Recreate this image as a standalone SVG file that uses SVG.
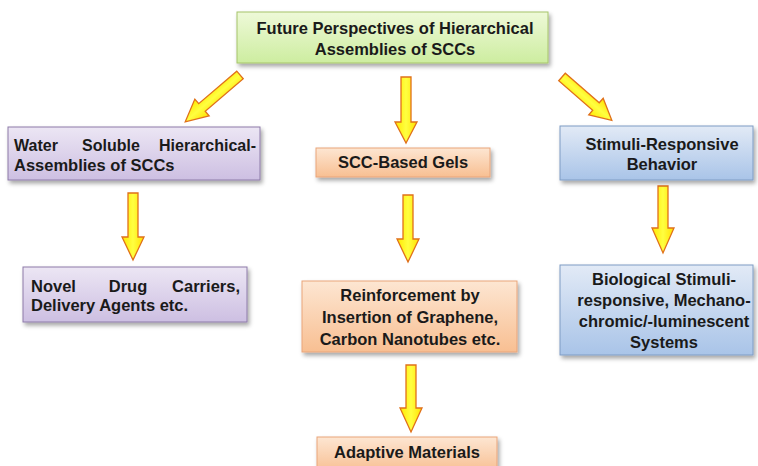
<svg xmlns="http://www.w3.org/2000/svg" width="758" height="466" viewBox="0 0 758 466">
<defs>
<linearGradient id="gGreen" x1="0" y1="0" x2="0" y2="1"><stop offset="0" stop-color="#eef9d8"/><stop offset="1" stop-color="#cdeda0"/></linearGradient>
<linearGradient id="gPurple" x1="0" y1="0" x2="0" y2="1"><stop offset="0" stop-color="#ece6f4"/><stop offset="1" stop-color="#cdbfe2"/></linearGradient>
<linearGradient id="gOrange" x1="0" y1="0" x2="0" y2="1"><stop offset="0" stop-color="#fde6d2"/><stop offset="1" stop-color="#f8bf92"/></linearGradient>
<linearGradient id="gBlue" x1="0" y1="0" x2="0" y2="1"><stop offset="0" stop-color="#e2eaf6"/><stop offset="1" stop-color="#a9c4e8"/></linearGradient>
<linearGradient id="gArrow" x1="0" y1="0" x2="1" y2="0"><stop offset="0" stop-color="#ffe800"/><stop offset="0.5" stop-color="#ffff40"/><stop offset="1" stop-color="#ffe000"/></linearGradient>
<filter id="sh" x="-10%" y="-10%" width="125%" height="140%"><feDropShadow dx="2" dy="3" stdDeviation="2" flood-color="#000" flood-opacity="0.35"/></filter>
</defs>
<style>
.t{font-family:"Liberation Sans",Arial,sans-serif;font-weight:bold;font-size:16.5px;fill:#1a1a1a}
.s{font-size:16px}
.c{text-anchor:middle}
.e{text-anchor:end}
.green{fill:url(#gGreen);stroke:#a6c46a;stroke-width:1}
.purple{fill:url(#gPurple);stroke:#8d7aa8;stroke-width:1}
.orange{fill:url(#gOrange);stroke:#e9a57a;stroke-width:1}
.blue{fill:url(#gBlue);stroke:#7f9cc4;stroke-width:1}
.arr{fill:url(#gArrow);stroke:#e0701a;stroke-width:1.3;stroke-linejoin:miter}
</style>
<rect width="758" height="466" fill="#fff"/>

<g id="connectors">
<path class="arr" transform="translate(240,75) rotate(49.5)" d="M-5,0 H5 V50 H11 L0,72 L-11,50 H-5 Z"/>
<path class="arr" d="M401,77 H411 V122 H417 L406,143 L395,122 H401 Z"/>
<path class="arr" transform="translate(562,77) rotate(-49)" d="M-5,0 H5 V45 H11 L0,66 L-11,45 H-5 Z"/>
<path class="arr" d="M128,193 H138 V237 H144 L133,260 L122,237 H128 Z"/>
<path class="arr" d="M403,195 H413 V239 H419 L408,262 L397,239 H403 Z"/>
<path class="arr" d="M658,186 H668 V228 H674 L663,253 L652,228 H658 Z"/>
<path class="arr" d="M406,365 H416 V408 H422 L411,432 L400,408 H406 Z"/>
</g>

<g id="top">
<rect class="green" x="237" y="12" width="311" height="51" filter="url(#sh)"/>
<text class="t c" x="395" y="34">Future Perspectives of Hierarchical</text>
<text class="t c" x="395" y="55">Assemblies of SCCs</text>
</g>

<g id="water">
<rect class="purple" x="8" y="127" width="252" height="53" filter="url(#sh)"/>
<text class="t s" x="14" y="151">Water</text>
<text class="t s c" x="111" y="151">Soluble</text>
<text class="t s e" x="256" y="151">Hierarchical-</text>
<text class="t" x="14" y="171">Assemblies of SCCs</text>
</g>

<g id="gels">
<rect class="orange" x="316" y="148" width="174" height="29" filter="url(#sh)"/>
<text class="t c" x="403" y="168">SCC-Based Gels</text>
</g>

<g id="stimuli">
<rect class="blue" x="560" y="126" width="193" height="54" filter="url(#sh)"/>
<text class="t c" x="662" y="150">Stimuli-Responsive</text>
<text class="t c" x="662" y="170">Behavior</text>
</g>

<g id="drug">
<rect class="purple" x="23" y="267" width="224" height="55" filter="url(#sh)"/>
<text class="t" x="31" y="292">Novel</text>
<text class="t c" x="128" y="292">Drug</text>
<text class="t e" x="240" y="292">Carriers,</text>
<text class="t" x="31" y="311">Delivery Agents etc.</text>
</g>

<g id="reinforce">
<rect class="orange" x="302" y="281" width="215" height="71" filter="url(#sh)"/>
<text class="t c" x="410" y="301">Reinforcement by</text>
<text class="t c" x="410" y="323">Insertion of Graphene,</text>
<text class="t c" x="410" y="345">Carbon Nanotubes etc.</text>
</g>

<g id="bio">
<rect class="blue" x="560" y="265" width="193" height="90" filter="url(#sh)"/>
<text class="t c" x="664" y="285">Biological Stimuli-</text>
<text class="t c" x="664" y="306">responsive, Mechano-</text>
<text class="t c" x="664" y="327">chromic/-luminescent</text>
<text class="t c" x="664" y="348">Systems</text>
</g>

<g id="adaptive">
<rect class="orange" x="317" y="437" width="180" height="35" filter="url(#sh)"/>
<text class="t c" x="407" y="458">Adaptive Materials</text>
</g>
</svg>
